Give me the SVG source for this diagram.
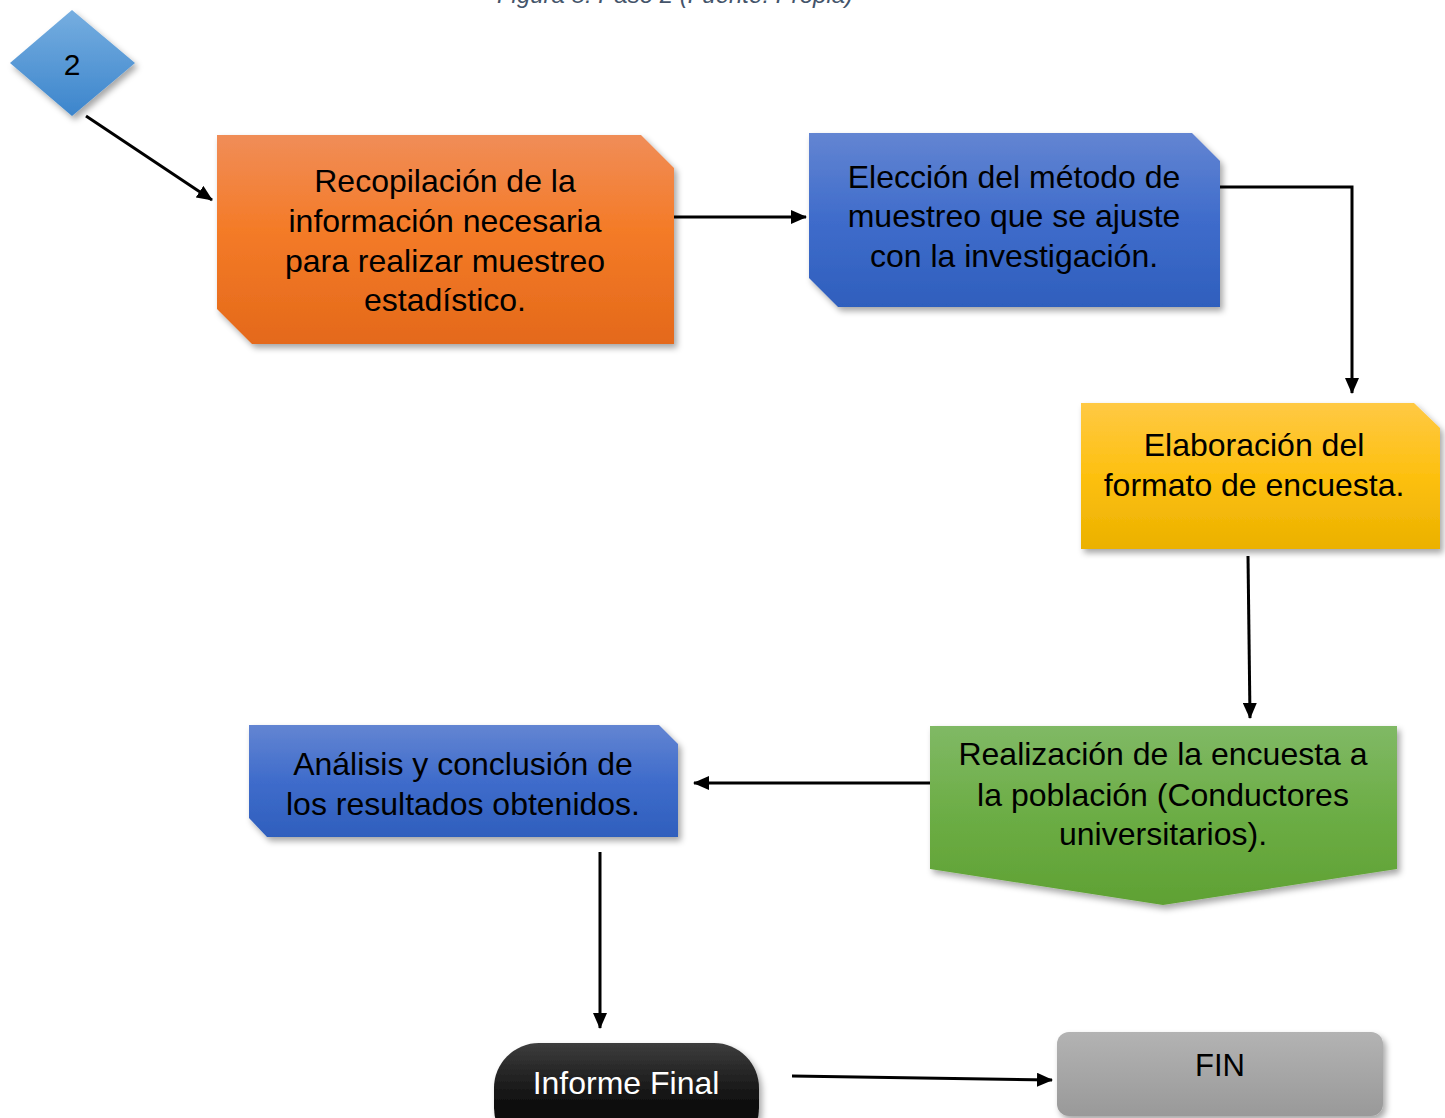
<svg xmlns="http://www.w3.org/2000/svg" width="1445" height="1118" viewBox="0 0 1445 1118">
<defs>
<style>
.t{font-family:"Liberation Sans",Arial,sans-serif;font-size:32px;fill:#000;text-anchor:middle}
.c{fill:none;stroke:#000;stroke-width:3}
</style>
<filter id="sh" x="-10%" y="-10%" width="125%" height="130%">
<feDropShadow dx="3" dy="4" stdDeviation="3" flood-color="#000" flood-opacity="0.35"/>
</filter>
<linearGradient id="gOr" x1="0" y1="0" x2="0" y2="1"><stop offset="0" stop-color="#f08d58"/><stop offset="0.45" stop-color="#f47b28"/><stop offset="1" stop-color="#e4691a"/></linearGradient>
<linearGradient id="gBl" x1="0" y1="0" x2="0" y2="1"><stop offset="0" stop-color="#6385d2"/><stop offset="0.5" stop-color="#3f6ccb"/><stop offset="1" stop-color="#2f5fbd"/></linearGradient>
<linearGradient id="gYe" x1="0" y1="0" x2="0" y2="1"><stop offset="0" stop-color="#ffc944"/><stop offset="0.5" stop-color="#fdc010"/><stop offset="1" stop-color="#ebb100"/></linearGradient>
<linearGradient id="gGr" x1="0" y1="0" x2="0" y2="1"><stop offset="0" stop-color="#80b965"/><stop offset="0.5" stop-color="#6cad45"/><stop offset="1" stop-color="#5fa133"/></linearGradient>
<linearGradient id="gDi" x1="0" y1="0" x2="0" y2="1"><stop offset="0" stop-color="#76aee0"/><stop offset="1" stop-color="#3c85cc"/></linearGradient>
<linearGradient id="gBk" x1="0" y1="0" x2="0" y2="1"><stop offset="0" stop-color="#3d3d3d"/><stop offset="0.6" stop-color="#0a0a0a"/><stop offset="1" stop-color="#000"/></linearGradient>
<linearGradient id="gGy" x1="0" y1="0" x2="0" y2="1"><stop offset="0" stop-color="#b3b3b3"/><stop offset="1" stop-color="#999999"/></linearGradient>
<marker id="ah" markerUnits="userSpaceOnUse" markerWidth="16" markerHeight="14" refX="15" refY="7" orient="auto">
<path d="M0,0 L16,7 L0,14 Z" fill="#000"/>
</marker>
</defs>
<rect width="1445" height="1118" fill="#fff"/>
<text x="675" y="3" style="font-family:'Liberation Sans',Arial,sans-serif;font-size:24px;font-style:italic;fill:#44546a;text-anchor:middle">Figura 8: Paso 2 (Fuente: Propia)</text>

<g id="connectors">
<line class="c" x1="86" y1="116" x2="212" y2="200" marker-end="url(#ah)"/>
<line class="c" x1="674" y1="217" x2="806" y2="217" marker-end="url(#ah)"/>
<polyline class="c" points="1220,187 1352,187 1352,393" marker-end="url(#ah)"/>
<line class="c" x1="1248" y1="556" x2="1250" y2="718" marker-end="url(#ah)"/>
<line class="c" x1="930" y1="783" x2="694" y2="783" marker-end="url(#ah)"/>
<line class="c" x1="600" y1="852" x2="600" y2="1028" marker-end="url(#ah)"/>
<line class="c" x1="792" y1="1076" x2="1052" y2="1080" marker-end="url(#ah)"/>
</g>

<g id="n-start">
<polygon points="72,10 135,63 72,116 10,63" fill="url(#gDi)" filter="url(#sh)"/>
<text class="t" x="72" y="75" style="font-size:30px">2</text>
</g>

<g id="n-recopilacion">
<polygon points="217,135 641,135 674,168 674,344 252,344 217,309" fill="url(#gOr)" filter="url(#sh)"/>
<text class="t" x="445" y="192">Recopilación de la</text>
<text class="t" x="445" y="232">información necesaria</text>
<text class="t" x="445" y="272">para realizar muestreo</text>
<text class="t" x="445" y="311">estadístico.</text>
</g>

<g id="n-eleccion">
<polygon points="809,133 1192,133 1220,161 1220,307 838,307 809,278" fill="url(#gBl)" filter="url(#sh)"/>
<text class="t" x="1014" y="188">Elección del método de</text>
<text class="t" x="1014" y="227">muestreo que se ajuste</text>
<text class="t" x="1014" y="267">con la investigación.</text>
</g>

<g id="n-elaboracion">
<polygon points="1081,403 1414,403 1440,428 1440,549 1081,549" fill="url(#gYe)" filter="url(#sh)"/>
<text class="t" x="1254" y="456">Elaboración del</text>
<text class="t" x="1254" y="496">formato de encuesta.</text>
</g>

<g id="n-realizacion">
<polygon points="930,726 1397,726 1397,869 1163,905 930,869" fill="url(#gGr)" filter="url(#sh)"/>
<text class="t" x="1163" y="765">Realización de la encuesta a</text>
<text class="t" x="1163" y="806">la población (Conductores</text>
<text class="t" x="1163" y="845">universitarios).</text>
</g>

<g id="n-analisis">
<polygon points="249,725 659,725 678,744 678,837 267,837 249,818" fill="url(#gBl)" filter="url(#sh)"/>
<text class="t" x="463" y="775">Análisis y conclusión de</text>
<text class="t" x="463" y="815">los resultados obtenidos.</text>
</g>

<g id="n-informe">
<rect x="494" y="1043" width="265" height="110" rx="45" ry="45" fill="url(#gBk)" filter="url(#sh)"/>
<text class="t" x="626" y="1094" style="fill:#fff">Informe Final</text>
</g>

<g id="n-fin">
<rect x="1057" y="1032" width="326" height="84" rx="12" ry="12" fill="url(#gGy)" filter="url(#sh)"/>
<text class="t" x="1220" y="1076" style="font-size:31px">FIN</text>
</g>
</svg>
